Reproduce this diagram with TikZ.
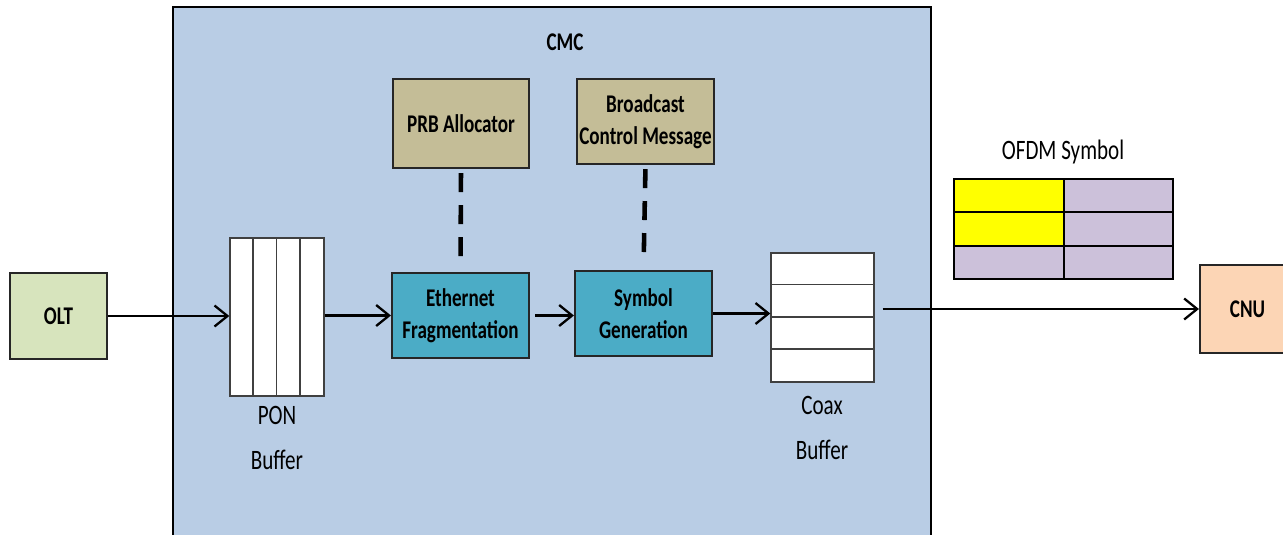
\documentclass[tikz,border=0pt]{standalone}
\usepackage{fontspec}
\setmainfont{Carlito}[FakeStretch=0.75]
\usetikzlibrary{arrows.meta}
\definecolor{cmcblue}{HTML}{B9CDE5}
\definecolor{oltgreen}{HTML}{D7E4BD}
\definecolor{fragteal}{HTML}{4BACC6}
\definecolor{ctrltan}{HTML}{C4BD97}
\definecolor{cnupeach}{HTML}{FCD5B5}
\definecolor{ofdmyel}{HTML}{FFFF00}
\definecolor{ofdmlil}{HTML}{CCC1DA}

\begin{document}
\begin{tikzpicture}[x=0.02cm,y=-0.02cm,
  blk/.style={draw=black!85,line width=1.2pt,minimum width=2.74cm,minimum height=1.7cm,
    inner sep=0pt,align=center,font=\fontsize{14.5}{18}\selectfont\bfseries},
  buf/.style={draw=black!75,fill=white,line width=0.8pt,inner sep=0pt},
  flow/.style={line width=1.3pt,-{Straight Barb[length=2.6mm,width=4.2mm]}},
  link/.style={line width=2.6pt,dash pattern=on 0.38cm off 0.26cm},
  lbl/.style={align=center,font=\fontsize{16}{19}\selectfont}]
  \useasboundingbox (0,0) rectangle (1283,534);
  \clip (0,0) rectangle (1283,534);
  \fill[white] (0,0) rectangle (1283,534);
  % CMC enclosure
  \draw[fill=cmcblue,line width=1.2pt] (173,7) rectangle (931,560);
  \node[font=\fontsize{14.5}{18}\selectfont\bfseries] (cmc) at (565,42) {CMC};

  % blocks
  \node[blk,fill=oltgreen,minimum width=1.94cm,minimum height=1.72cm] (olt) at (58.5,316) {OLT};
  \node[blk,fill=ctrltan,minimum width=2.72cm,minimum height=1.78cm] (prb) at (461,123.5) {PRB Allocator};
  \node[blk,fill=ctrltan] (bcm) at (645.5,121.5) {Broadcast\\Control Message};
  \node[blk,fill=fragteal] (eth) at (460.5,315.5) {Ethernet\\Fragmentation};
  \node[blk,fill=fragteal] (sym) at (643.5,313.5) {Symbol\\Generation};
  \node[blk,fill=cnupeach,minimum width=1.9cm,minimum height=1.76cm] (cnu) at (1247.5,309) {CNU};

  % buffers
  \node[buf,minimum width=1.88cm,minimum height=3.16cm] (pon) at (277,317) {};
  \foreach \i in {1,2,3}
    \draw[black!75,line width=0.8pt] ([xshift=\i*0.47cm]pon.north west) -- ([xshift=\i*0.47cm]pon.south west);
  \node[buf,minimum width=2.06cm,minimum height=2.58cm] (coax) at (822.5,317.5) {};
  \foreach \i in {1,2,3}
    \draw[black!75,line width=0.8pt] ([yshift=-\i*0.645cm]coax.north west) -- ([yshift=-\i*0.645cm]coax.north east);
  \node[lbl] (ponlbl) at (277,438) {PON\\[7pt]Buffer};
  \node[lbl] (coaxlbl) at (822,428) {Coax\\[7pt]Buffer};

  % OFDM symbol
  \node[lbl] (ofdm) at (1063,152) {OFDM Symbol};
  \foreach \r/\c in {0/ofdmyel,1/ofdmyel,2/ofdmlil} {
    \filldraw[fill=\c,line width=1.2pt] (954,{179+\r*33.3}) rectangle ++(110,33.3);
    \filldraw[fill=ofdmlil,line width=1.2pt] (1064,{179+\r*33.3}) rectangle ++(109,33.3);
  }

  % connectors
  \draw[flow] (olt.east) -- (olt.east -| pon.west);
  \draw[flow] (pon.east |- eth.west) -- (eth.west);
  \draw[flow,shorten <=3pt] (eth.east) -- (eth.east -| sym.west);
  \draw[flow] (sym.east) -- (sym.east -| coax.west);
  \draw[flow,shorten <=0.16cm] (cnu.west -| coax.east) -- (cnu.west);
  \draw[link,shorten <=0.08cm,shorten >=0.3cm] (prb.south) -- (eth.north);
  \draw[link,shorten <=0.08cm,shorten >=0.3cm] (bcm.south) -- (sym.north);
\end{tikzpicture}
\end{document}
